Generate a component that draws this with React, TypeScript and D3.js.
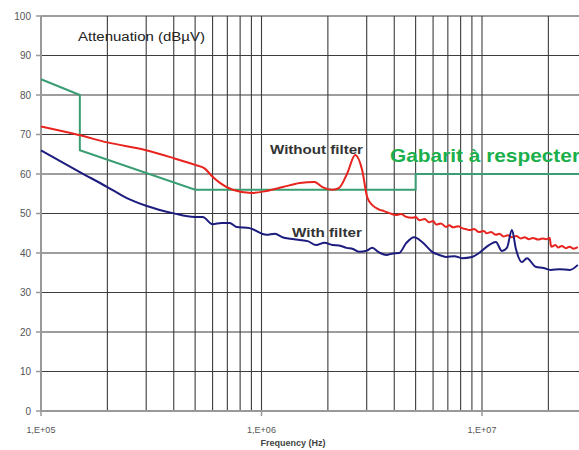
import React from "react";
import * as d3 from "d3";

// ---- Data ----
const yTicks = [0, 10, 20, 30, 40, 50, 60, 70, 80, 90, 100];
const xTickValues = [1e5, 1e6, 1e7];
const xTickLabels = ["1,E+05", "1,E+06", "1,E+07"];

const gabaritFreq = [1e5, 1.5e5, 1.5e5, 5e5, 5e6, 5e6, 3e7];
const gabaritVal = [84, 80, 66, 56, 56, 60, 60];

const withoutFreq = [
  1e5, 1.5e5, 2e5, 3e5, 4e5, 5e5, 5.5e5, 6e5, 6.5e5, 7.4e5, 9e5, 1.05e6, 1.25e6, 1.49e6,
  1.74e6, 1.89e6, 2.1e6, 2.25e6, 2.45e6, 2.66e6, 2.86e6, 3.02e6, 3.2e6, 3.42e6, 3.6e6,
  3.8e6, 4.08e6, 4.3e6, 4.5e6, 4.82e6, 5.0e6, 5.2e6, 5.5e6, 5.75e6, 6.0e6, 6.2e6, 6.5e6,
  6.87e6, 7.1e6, 7.4e6, 7.8e6, 8.12e6, 8.5e6, 8.8e6, 9.2e6, 9.69e6, 1.02e7, 1.05e7,
  1.1e7, 1.156e7, 1.2e7, 1.25e7, 1.31e7, 1.367e7, 1.43e7, 1.5e7, 1.56e7, 1.63e7, 1.7e7,
  1.8e7, 1.88e7, 1.95e7, 2.03e7, 2.05e7, 2.07e7, 2.15e7, 2.22e7, 2.3e7, 2.4e7, 2.5e7,
  2.6e7, 2.72e7,
];
const withoutVal = [
  72, 69.8, 68, 66, 64, 62.3, 61.5, 59.3, 57.7, 56, 55.2, 55.7, 56.7, 57.7,
  58, 56.7, 56, 56.5, 60.2, 64.8, 61, 54, 52, 51, 50.6,
  50.1, 49.6, 49.9, 49.2, 48.9, 49.1, 48.3, 48.6, 47.8, 48.1, 47.2, 47.5,
  46.6, 47.0, 46.5, 46.8, 46.3, 46.0, 45.8, 46.1, 45.3, 45.6, 45.0,
  45.3, 44.6, 44.9, 44.2, 44.5, 44.0, 44.3, 43.7, 44.0, 43.5, 43.8,
  43.4, 43.7, 43.5, 43.8, 42.0, 41.6, 42.0, 41.4, 41.8, 41.2, 41.6,
  41.1, 41.5,
];

const withFreq = [
  1e5, 1.5e5, 2e5, 2.45e5, 3.02e5, 3.96e5, 4.97e5, 5.41e5, 6.0e5, 6.59e5, 7.17e5, 7.71e5,
  8.83e5, 1.053e6, 1.15e6, 1.245e6, 1.35e6, 1.49e6, 1.62e6, 1.77e6, 1.93e6, 2.1e6, 2.25e6,
  2.43e6, 2.6e6, 2.78e6, 3.0e6, 3.18e6, 3.4e6, 3.68e6, 3.95e6, 4.21e6, 4.53e6, 4.92e6,
  5.35e6, 5.94e6, 6.4e6, 6.87e6, 7.5e6, 8.12e6, 9.01e6, 9.69e6, 1.076e7, 1.156e7, 1.231e7,
  1.297e7, 1.367e7, 1.425e7, 1.517e7, 1.6e7, 1.75e7, 1.9e7, 2.05e7, 2.25e7, 2.5e7, 2.72e7,
];
const withVal = [
  66, 60.5, 56.7, 53.9, 51.9, 50.1, 49.1, 49.1, 47.3, 47.6, 47.6, 46.6,
  46.3, 44.6, 44.9, 44, 43.6, 43.3, 43.0, 42, 42.6, 42, 41.9,
  41.3, 41.0, 40.3, 40.6, 41.3, 40.2, 39.5, 39.9, 40, 42.5, 44,
  42.8, 40.3, 39.5, 39, 39.2, 38.7, 39, 40, 42, 42.8, 40.5,
  41.3, 45.8, 41, 37.7, 38.7, 36.5, 36.2, 35.7, 35.9, 35.7, 37,
];

const W = 579;
const H = 450;

export default function App() {
  const x = d3.scaleLog().domain([1e5, 1e7]).range([41, 482]);
  const y = d3.scaleLinear().domain([0, 100]).range([411, 16]);

  const minorGrid: number[] = [];
  for (let dec = 1e5; dec <= 1e7; dec *= 10) {
    for (let k = 1; k <= 9; k++) {
      const v = dec * k;
      if (v > 1e5 && v <= 4e7) minorGrid.push(v);
    }
  }

  const straight = d3
    .line<[number, number]>()
    .x((d) => x(d[0]))
    .y((d) => y(d[1]));
  const smooth = d3
    .line<[number, number]>()
    .x((d) => x(d[0]))
    .y((d) => y(d[1]))
    .curve(d3.curveMonotoneX);

  const gab = straight(gabaritFreq.map((f, i) => [f, gabaritVal[i]]) as [number, number][]);
  const wo = smooth(withoutFreq.map((f, i) => [f, withoutVal[i]]) as [number, number][]);
  const wi = smooth(withFreq.map((f, i) => [f, withVal[i]]) as [number, number][]);

  const font = "'Liberation Sans', Arial, sans-serif";
  const gridColor = "#3c3c3c";

  return (
    <svg
      width={W}
      height={H}
      style={{ position: "absolute", left: 0, top: 0, background: "#fff" }}
      fontFamily={font}
    >
      <rect x={0} y={0} width={W} height={H} fill="#fff" />
      {yTicks.filter((t) => t > 0).map((t) => (
        <line key={"h" + t} x1={41} x2={W} y1={y(t)} y2={y(t)} stroke={gridColor} strokeWidth={1.1} />
      ))}
      {minorGrid.map((v) => (
        <line key={"v" + v} x1={x(v)} x2={x(v)} y1={y(100)} y2={y(0)} stroke={gridColor} strokeWidth={1.1} />
      ))}
      <line x1={41} x2={41} y1={y(100)} y2={y(0)} stroke="#999" strokeWidth={2} />
      <line x1={41} x2={W} y1={y(0)} y2={y(0)} stroke="#999" strokeWidth={2} />
      {yTicks.map((t) => (
        <g key={"yt" + t}>
          <line x1={36} x2={41} y1={y(t)} y2={y(t)} stroke="#999" strokeWidth={1.5} />
          <text x={31} y={y(t) + 3.5} fontSize={10} fill="#555" textAnchor="end">
            {t}
          </text>
        </g>
      ))}
      {xTickValues.map((v, i) => (
        <g key={"xt" + v}>
          <line x1={x(v)} x2={x(v)} y1={y(0)} y2={y(0) + 5} stroke="#999" strokeWidth={1.5} />
          <text x={x(v)} y={433} fontSize={9} fill="#555" textAnchor="middle">
            {xTickLabels[i]}
          </text>
        </g>
      ))}
      <text x={293} y={446} fontSize={9} fontWeight="bold" fill="#444" textAnchor="middle">
        Frequency (Hz)
      </text>

      <path d={gab || ""} fill="none" stroke="#3a9e72" strokeWidth={2} />
      <path d={wo || ""} fill="none" stroke="#e8241f" strokeWidth={2} strokeLinejoin="round" />
      <path d={wi || ""} fill="none" stroke="#1c1c7e" strokeWidth={2} strokeLinejoin="round" />

      <text x={78} y={41} fontSize={12} fill="#222" textLength={127} lengthAdjust="spacingAndGlyphs">
        Attenuation (dBµV)
      </text>
      <text x={270} y={154} fontSize={13} fontWeight="bold" fill="#333" textLength={93} lengthAdjust="spacingAndGlyphs">
        Without filter
      </text>
      <text x={292} y={237} fontSize={13} fontWeight="bold" fill="#333" textLength={70} lengthAdjust="spacingAndGlyphs">
        With filter
      </text>
      <text x={390} y={162} fontSize={19} fontWeight="bold" fill="#1aaf4c" textLength={190} lengthAdjust="spacingAndGlyphs">
        Gabarit à respecter
      </text>
    </svg>
  );
}
